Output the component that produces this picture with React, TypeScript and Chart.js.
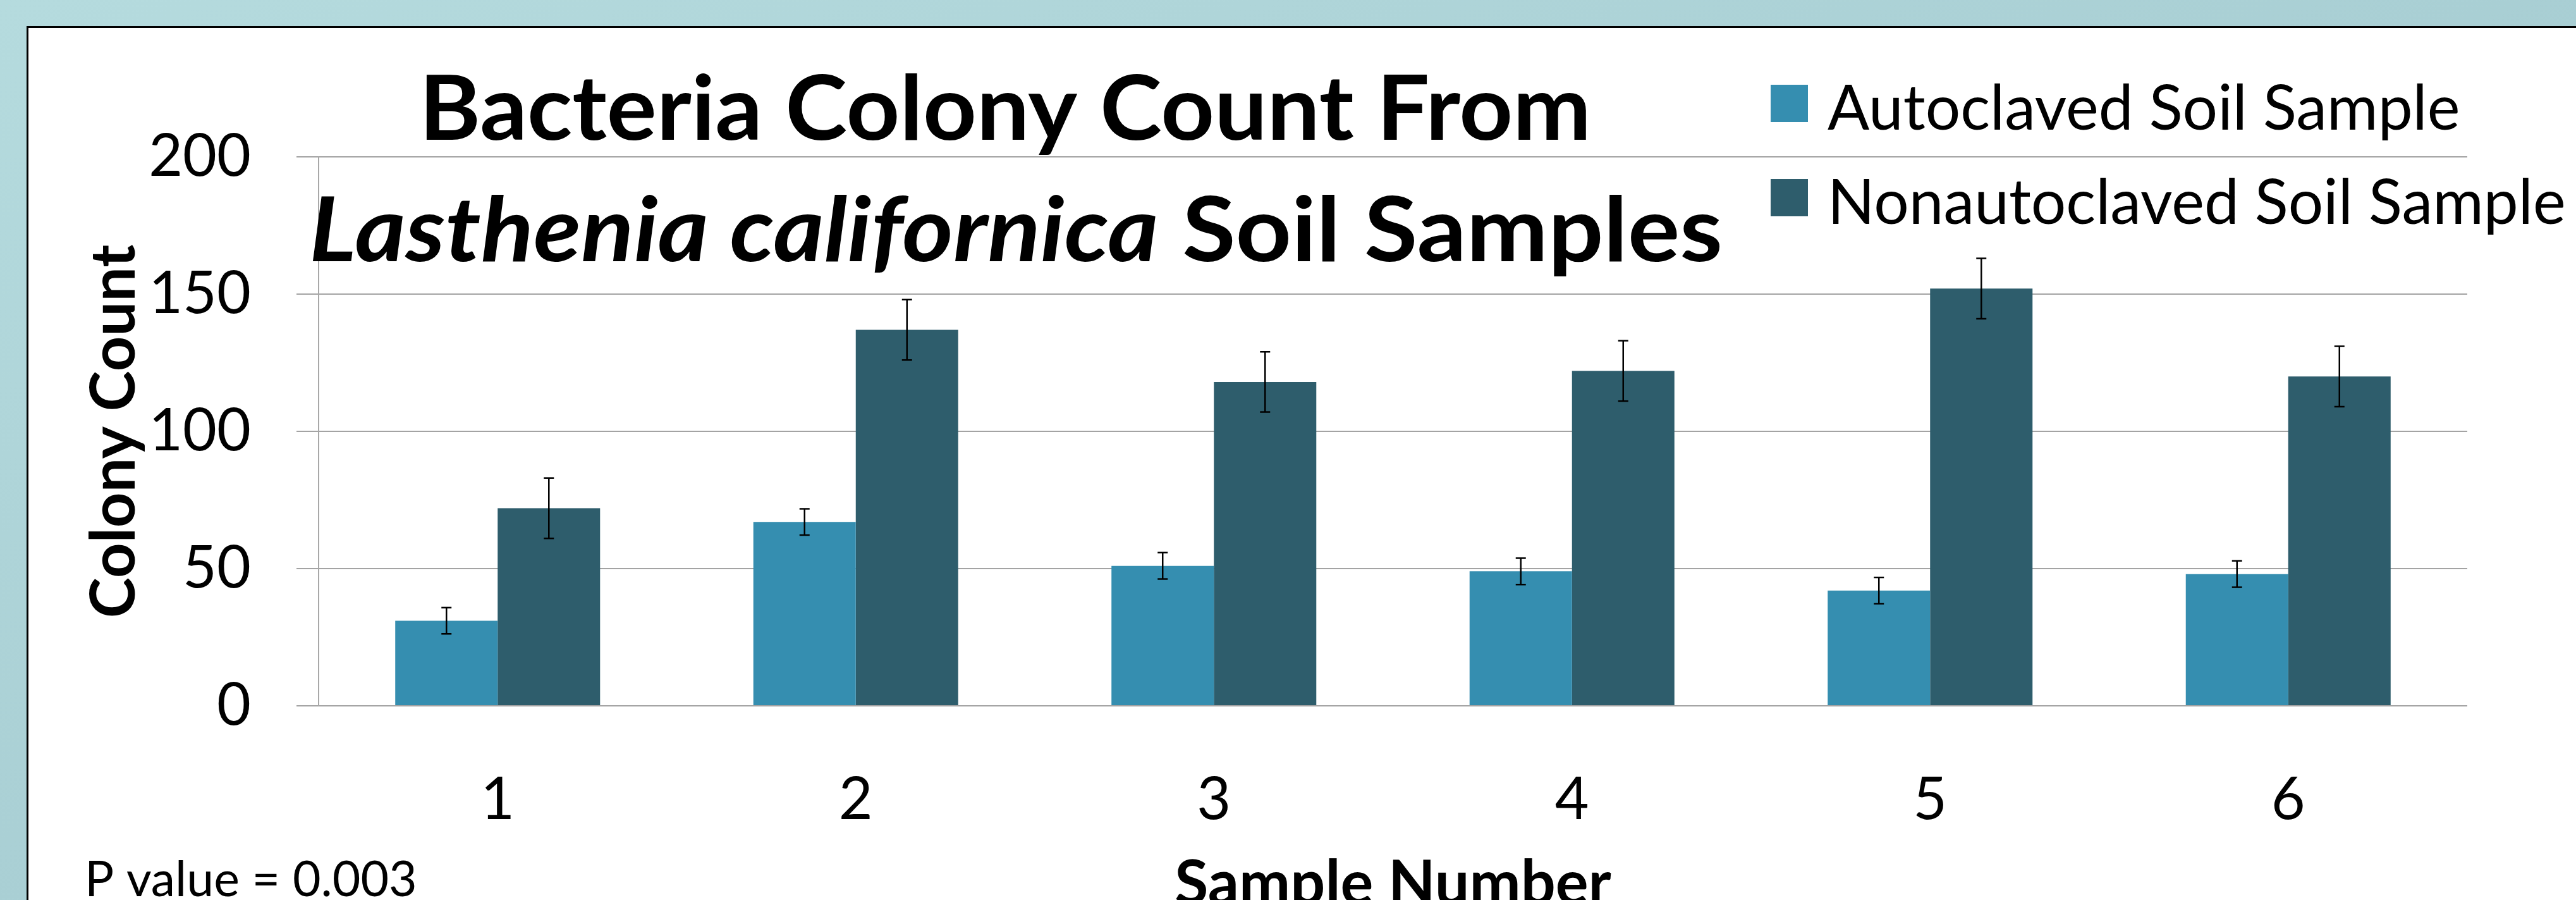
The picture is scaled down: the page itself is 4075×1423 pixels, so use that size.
import React, { useEffect, useRef } from 'react';
import { Chart, registerables } from 'chart.js';

Chart.register(...registerables);

// ---- data ----
const categories = ['1', '2', '3', '4', '5', '6'];
const autoclaved = [31, 67, 51, 49, 42, 48];
const nonautoclaved = [72, 137, 118, 122, 152, 120];
const autoclavedErr = [4.8, 4.8, 4.8, 4.8, 4.8, 4.8];
const nonautoclavedErr = [11, 11, 11, 11, 11, 11];
const yTicks = [0, 50, 100, 150, 200];
const seriesNames = ['Autoclaved Soil Sample', 'Nonautoclaved Soil Sample'];
const seriesColors = ['#358EB0', '#2E5D6C'];
const titleLine1 = 'Bacteria Colony Count From';
const titleItalic = 'Lasthenia californica';
const titleRest = ' Soil Samples';
const yTitle = 'Colony Count';
const xTitle = 'Sample Number';
const note = 'P value = 0.003';

const FONT = 'Lato, "Open Sans", sans-serif';
const W = 4075;
const H = 1423;

const errorBarPlugin = {
  id: 'errorBars',
  afterDatasetsDraw(chart: any) {
    const ctx = chart.ctx;
    const ys = chart.scales.y;
    chart.data.datasets.forEach((ds: any, i: number) => {
      const meta = chart.getDatasetMeta(i);
      meta.data.forEach((bar: any, j: number) => {
        const v = ds.data[j];
        const e = ds.errors[j];
        const x = bar.x;
        const y1 = ys.getPixelForValue(v + e);
        const y2 = ys.getPixelForValue(v - e);
        ctx.save();
        ctx.strokeStyle = '#000';
        ctx.lineWidth = 2.5;
        ctx.beginPath();
        ctx.moveTo(x, y1);
        ctx.lineTo(x, y2);
        ctx.moveTo(x - 8, y1);
        ctx.lineTo(x + 8, y1);
        ctx.moveTo(x - 8, y2);
        ctx.lineTo(x + 8, y2);
        ctx.stroke();
        ctx.restore();
      });
    });
  },
};

const TITLE_SIZE = 142;

const textPlugin = {
  id: 'texts',
  afterDraw(chart: any) {
    const ctx = chart.ctx;
    const area = chart.chartArea;
    ctx.save();
    ctx.fillStyle = '#000';
    ctx.textBaseline = 'alphabetic';

    // title line 1 (fit to the reference width)
    ctx.font = `bold ${TITLE_SIZE}px ${FONT}`;
    ctx.textAlign = 'left';
    const w1 = ctx.measureText(titleLine1).width;
    const s1 = 1854 / w1;
    ctx.save();
    ctx.translate(663, 221);
    ctx.scale(s1, 1);
    ctx.fillText(titleLine1, 0, 0);
    ctx.restore();

    // title line 2 (mixed italic)
    ctx.font = `italic bold ${TITLE_SIZE}px ${FONT}`;
    const wI = ctx.measureText(titleItalic).width;
    ctx.font = `bold ${TITLE_SIZE}px ${FONT}`;
    const wR = ctx.measureText(titleRest).width;
    const s2 = 2236 / (wI + wR);
    ctx.save();
    ctx.translate(489, 413);
    ctx.scale(s2, 1);
    ctx.font = `italic bold ${TITLE_SIZE}px ${FONT}`;
    ctx.fillText(titleItalic, 0, 0);
    ctx.font = `bold ${TITLE_SIZE}px ${FONT}`;
    ctx.fillText(titleRest, wI, 0);
    ctx.restore();

    // legend
    chart.data.datasets.forEach((ds: any, i: number) => {
      const top = 134 + i * 149;
      ctx.fillStyle = ds.backgroundColor;
      ctx.fillRect(2801, top, 59, 59);
      ctx.fillStyle = '#000';
      ctx.font = `98px ${FONT}`;
      ctx.textAlign = 'left';
      ctx.fillText(ds.label, 2891, top + 71);
    });

    // y axis title
    ctx.save();
    ctx.translate(213, (area.top + area.bottom) / 2);
    ctx.rotate(-Math.PI / 2);
    ctx.font = `bold 97px ${FONT}`;
    ctx.textAlign = 'center';
    ctx.fillText(yTitle, 0, 0);
    ctx.restore();

    // x axis title
    ctx.font = `bold 97px ${FONT}`;
    ctx.textAlign = 'center';
    ctx.fillText(xTitle, (area.left + area.right) / 2, 1430);

    // note
    ctx.font = `77px ${FONT}`;
    ctx.textAlign = 'left';
    ctx.fillText(note, 134, 1417);
    ctx.restore();
  },
};

export default function App() {
  const ref = useRef<HTMLCanvasElement | null>(null);

  useEffect(() => {
    document.body.style.margin = '0';
    const canvas = ref.current;
    if (!canvas) return;
    const chart = new Chart(canvas, {
      type: 'bar',
      data: {
        labels: categories,
        datasets: [
          {
            label: seriesNames[0],
            data: autoclaved,
            errors: autoclavedErr,
            backgroundColor: seriesColors[0],
            borderWidth: 0,
          } as any,
          {
            label: seriesNames[1],
            data: nonautoclaved,
            errors: nonautoclavedErr,
            backgroundColor: seriesColors[1],
            borderWidth: 0,
          } as any,
        ],
      },
      options: {
        animation: false,
        responsive: false,
        devicePixelRatio: 1,
        events: [],
        datasets: {
          bar: {
            categoryPercentage: 0.572,
            barPercentage: 1.0,
          },
        },
        layout: {
          padding: { left: 0, top: 248, right: 172, bottom: 0 },
        },
        plugins: {
          legend: { display: false },
          title: { display: false },
          tooltip: { enabled: false },
        },
        scales: {
          x: {
            grid: { display: false },
            border: { display: false },
            ticks: {
              color: '#000',
              font: { family: FONT, size: 93 },
              padding: 85,
            },
            afterFit: (s: any) => {
              s.height = 307;
            },
          },
          y: {
            min: 0,
            max: 200,
            afterBuildTicks: (s: any) => {
              s.ticks = yTicks.map((v) => ({ value: v }));
            },
            grid: {
              color: '#A3A3A3',
              lineWidth: 2,
              tickLength: 35,
              drawTicks: true,
            },
            border: { display: true, color: '#A8A8A8', width: 2 },
            ticks: {
              color: '#000',
              font: { family: FONT, size: 93 },
              padding: 72,
            },
            afterFit: (s: any) => {
              s.width = 504;
            },
          },
        },
      },
      plugins: [errorBarPlugin, textPlugin],
    } as any);
    return () => chart.destroy();
  }, []);

  return (
    <div
      style={{
        position: 'fixed',
        left: 0,
        top: 0,
        width: W,
        height: H,
        overflow: 'hidden',
        background: 'linear-gradient(160deg, #b5dbde 0%, #a9cfd4 50%, #9bbec6 100%)',
      }}
    >
      <div
        style={{
          position: 'absolute',
          left: 42,
          top: 41,
          width: W,
          height: H,
          background: '#fff',
          borderTop: '3px solid #000',
          borderLeft: '3px solid #000',
        }}
      />
      <canvas
        ref={ref}
        width={W}
        height={H}
        style={{ position: 'absolute', left: 0, top: 0, width: W, height: H }}
      />
    </div>
  );
}
